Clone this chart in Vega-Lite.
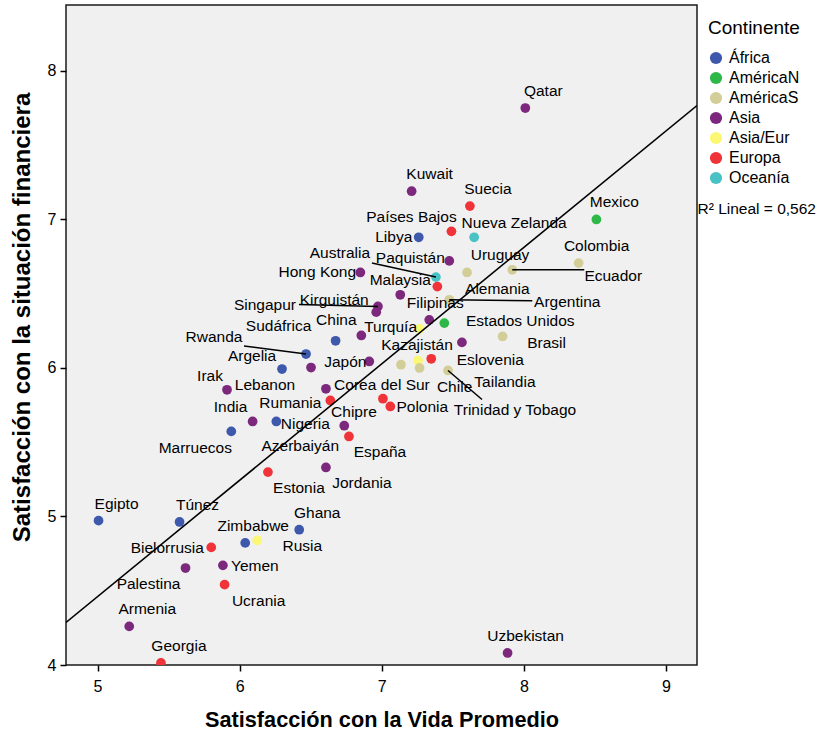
{
 "$schema": "https://vega.github.io/schema/vega-lite/v6.json",
 "width": 631, "height": 660,
 "autosize": {"type": "none"},
 "padding": {"left": 66, "top": 5, "right": 129, "bottom": 70},
 "background": "white",
 "data": {"values": [
  {"pais":"Qatar","continente":"Asia","vida":8.01,"fin":7.75},
  {"pais":"Kuwait","continente":"Asia","vida":7.21,"fin":7.19},
  {"pais":"Suecia","continente":"Europa","vida":7.62,"fin":7.09},
  {"pais":"Mexico","continente":"AméricaN","vida":8.51,"fin":7.0},
  {"pais":"Países Bajos","continente":"Europa","vida":7.49,"fin":6.92},
  {"pais":"Nueva Zelanda","continente":"Oceanía","vida":7.65,"fin":6.88},
  {"pais":"Libya","continente":"África","vida":7.26,"fin":6.88},
  {"pais":"Colombia","continente":"AméricaS","vida":8.385,"fin":6.706},
  {"pais":"Paquistán","continente":"Asia","vida":7.475,"fin":6.721},
  {"pais":"Uruguay","continente":"AméricaS","vida":7.6,"fin":6.643},
  {"pais":"Ecuador","continente":"AméricaS","vida":7.918,"fin":6.661},
  {"pais":"Australia","continente":"Oceanía","vida":7.381,"fin":6.612},
  {"pais":"Hong Kong","continente":"Asia","vida":6.849,"fin":6.643},
  {"pais":"Alemania","continente":"Europa","vida":7.391,"fin":6.548},
  {"pais":"Malaysia","continente":"Asia","vida":7.13,"fin":6.493},
  {"pais":"Singapur","continente":"Asia","vida":6.973,"fin":6.414},
  {"pais":"Kirguistán","continente":"Asia","vida":6.961,"fin":6.376},
  {"pais":"Argentina","continente":"AméricaS","vida":7.475,"fin":6.459},
  {"pais":"Filipinas","continente":"Asia","vida":7.334,"fin":6.324},
  {"pais":"Estados Unidos","continente":"AméricaN","vida":7.44,"fin":6.302},
  {"pais":"Turquía","continente":"Asia/Eur","vida":7.266,"fin":6.264},
  {"pais":"China","continente":"Asia","vida":6.856,"fin":6.219},
  {"pais":"Sudáfrica","continente":"África","vida":6.675,"fin":6.183},
  {"pais":"Tailandia","continente":"Asia","vida":7.564,"fin":6.172},
  {"pais":"Brasil","continente":"AméricaS","vida":7.85,"fin":6.212},
  {"pais":"Rwanda","continente":"África","vida":6.467,"fin":6.094},
  {"pais":"Eslovenia","continente":"Europa","vida":7.348,"fin":6.062},
  {"pais":"Kazajistán","continente":"Asia/Eur","vida":7.255,"fin":6.05},
  {"pais":"Japón","continente":"Asia","vida":6.912,"fin":6.044},
  {"pais":"Perú","continente":"AméricaS","vida":7.135,"fin":6.022},
  {"pais":"Chile","continente":"AméricaS","vida":7.266,"fin":6.0},
  {"pais":"Trinidad y Tobago","continente":"AméricaS","vida":7.466,"fin":5.983},
  {"pais":"Lebanon","continente":"Asia","vida":6.502,"fin":6.003},
  {"pais":"Argelia","continente":"África","vida":6.298,"fin":5.993},
  {"pais":"Irak","continente":"Asia","vida":5.911,"fin":5.853},
  {"pais":"Corea del Sur","continente":"Asia","vida":6.607,"fin":5.86},
  {"pais":"Chipre","continente":"Europa","vida":7.008,"fin":5.793},
  {"pais":"Polonia","continente":"Europa","vida":7.06,"fin":5.741},
  {"pais":"Rumania","continente":"Europa","vida":6.638,"fin":5.781},
  {"pais":"India","continente":"Asia","vida":6.091,"fin":5.64},
  {"pais":"Nigeria","continente":"África","vida":6.258,"fin":5.64},
  {"pais":"Marruecos","continente":"África","vida":5.941,"fin":5.573},
  {"pais":"Azerbaiyán","continente":"Asia","vida":6.736,"fin":5.611},
  {"pais":"España","continente":"Europa","vida":6.769,"fin":5.539},
  {"pais":"Jordania","continente":"Asia","vida":6.607,"fin":5.33},
  {"pais":"Estonia","continente":"Europa","vida":6.199,"fin":5.299},
  {"pais":"Egipto","continente":"África","vida":5.007,"fin":4.972},
  {"pais":"Túnez","continente":"África","vida":5.577,"fin":4.963},
  {"pais":"Ghana","continente":"África","vida":6.419,"fin":4.911},
  {"pais":"Zimbabwe","continente":"África","vida":6.039,"fin":4.822},
  {"pais":"Rusia","continente":"Asia/Eur","vida":6.124,"fin":4.839},
  {"pais":"Bielorrusia","continente":"Europa","vida":5.8,"fin":4.792},
  {"pais":"Yemen","continente":"Asia","vida":5.882,"fin":4.671},
  {"pais":"Palestina","continente":"Asia","vida":5.619,"fin":4.653},
  {"pais":"Ucrania","continente":"Europa","vida":5.894,"fin":4.541},
  {"pais":"Armenia","continente":"Asia","vida":5.223,"fin":4.26},
  {"pais":"Georgia","continente":"Europa","vida":5.446,"fin":4.014},
  {"pais":"Uzbekistan","continente":"Asia","vida":7.885,"fin":4.081}
 ]},
 "encoding": {
  "x": {"field": "vida", "type": "quantitative",
        "scale": {"domain": [4.778, 9.218], "nice": false, "zero": false},
        "axis": {"values": [5, 6, 7, 8, 9], "format": "d", "title": "Satisfacción con la Vida Promedio"}},
  "y": {"field": "fin", "type": "quantitative",
        "scale": {"domain": [4, 8.444], "nice": false, "zero": false},
        "axis": {"values": [4, 5, 6, 7, 8], "format": "d", "title": "Satisfacción con la situación financiera", "titleY": 312}}
 },
 "layer": [
  {"mark": {"type": "circle", "size": 95, "opacity": 1, "strokeWidth": 0, "clip": true},
   "encoding": {"fill": {"field": "continente", "type": "nominal",
     "scale": {"domain": ["África", "AméricaN", "AméricaS", "Asia", "Asia/Eur", "Europa", "Oceanía"],
               "range": ["#3E58AC", "#2EB848", "#D3CE97", "#7C287D", "#FBF873", "#EF3338", "#48C2C5"]},
     "legend": {"title": "Continente", "orient": "none", "legendX": 642, "legendY": 14, "padding": 0, "symbolType": "circle",
                "symbolSize": 150, "symbolStrokeWidth": 0, "labelFontSize": 16, "titleFontSize": 19,
                "titleFontWeight": "normal", "titlePadding": 12, "rowPadding": 4, "labelOffset": 5}}}},
  {"transform": [{"regression": "fin", "on": "vida", "extent": [4.778, 9.218]}],
   "mark": {"type": "line", "strokeWidth": 1.6, "clip": true},
   "encoding": {"stroke": {"datum": "R² Lineal = 0,562", "type": "nominal", "scale": {"range": ["#000000"]},
     "legend": {"title": null, "orient": "none", "legendX": 616, "legendY": 196, "padding": 0, "symbolSize": 0, "symbolOpacity": 0,
                "symbolStrokeWidth": 0, "labelFontSize": 15.5, "labelOffset": 0}}}},
  {"encoding": {"x2": {"field": "vida"}, "y2": {"field": "fin"}},
   "layer": [
    {"transform": [{"filter": "datum.pais === 'Ecuador'"}], "mark": {"type": "rule", "color": "#000", "strokeWidth": 1.5, "x2Offset": 72, "y2Offset": 0}},
    {"transform": [{"filter": "datum.pais === 'Australia'"}], "mark": {"type": "rule", "color": "#000", "strokeWidth": 1.5, "x2Offset": -64, "y2Offset": -14}},
    {"transform": [{"filter": "datum.pais === 'Singapur'"}], "mark": {"type": "rule", "color": "#000", "strokeWidth": 1.5, "x2Offset": -79, "y2Offset": -2}},
    {"transform": [{"filter": "datum.pais === 'Argentina'"}], "mark": {"type": "rule", "color": "#000", "strokeWidth": 1.5, "x2Offset": 83, "y2Offset": 1}},
    {"transform": [{"filter": "datum.pais === 'Rwanda'"}], "mark": {"type": "rule", "color": "#000", "strokeWidth": 1.5, "x2Offset": -62, "y2Offset": -8}},
    {"transform": [{"filter": "datum.pais === 'Trinidad y Tobago'"}], "mark": {"type": "rule", "color": "#000", "strokeWidth": 1.5, "x2Offset": 34, "y2Offset": 29}}
   ]},
  {"encoding": {"text": {"field": "pais", "type": "nominal"}},
   "layer": [
    {"transform": [{"filter": {"field": "pais", "oneOf": ["Qatar", "Kuwait", "Suecia", "Mexico", "Colombia", "Egipto", "Túnez", "Ghana", "Armenia", "Georgia", "Uzbekistan"]}}], "mark": {"type": "text", "dx": 18, "dy": -17}},
    {"transform": [{"filter": "datum.pais === 'Países Bajos'"}], "mark": {"type": "text", "dx": -40, "dy": -14}},
    {"transform": [{"filter": "datum.pais === 'Nueva Zelanda'"}], "mark": {"type": "text", "dx": 40, "dy": -14}},
    {"transform": [{"filter": "datum.pais === 'Libya'"}], "mark": {"type": "text", "dx": -25, "dy": 0}},
    {"transform": [{"filter": "datum.pais === 'Paquistán'"}], "mark": {"type": "text", "dx": -39, "dy": -3}},
    {"transform": [{"filter": "datum.pais === 'Uruguay'"}], "mark": {"type": "text", "dx": 33, "dy": -17}},
    {"transform": [{"filter": "datum.pais === 'Ecuador'"}], "mark": {"type": "text", "dx": 101, "dy": 6}},
    {"transform": [{"filter": "datum.pais === 'Australia'"}], "mark": {"type": "text", "dx": -96, "dy": -24}},
    {"transform": [{"filter": "datum.pais === 'Hong Kong'"}], "mark": {"type": "text", "dx": -43, "dy": 0}},
    {"transform": [{"filter": "datum.pais === 'Alemania'"}], "mark": {"type": "text", "dx": 60, "dy": 2}},
    {"transform": [{"filter": "datum.pais === 'Malaysia'"}], "mark": {"type": "text", "dx": 0, "dy": -15}},
    {"transform": [{"filter": "datum.pais === 'Kirguistán'"}], "mark": {"type": "text", "dx": -42, "dy": -12}},
    {"transform": [{"filter": "datum.pais === 'Singapur'"}], "mark": {"type": "text", "dx": -113, "dy": -1}},
    {"transform": [{"filter": "datum.pais === 'Argentina'"}], "mark": {"type": "text", "dx": 118, "dy": 2}},
    {"transform": [{"filter": "datum.pais === 'Filipinas'"}], "mark": {"type": "text", "dx": 6, "dy": -17}},
    {"transform": [{"filter": "datum.pais === 'Estados Unidos'"}], "mark": {"type": "text", "dx": 76, "dy": -2}},
    {"transform": [{"filter": "datum.pais === 'Turquía'"}], "mark": {"type": "text", "dx": -29, "dy": -2}},
    {"transform": [{"filter": "datum.pais === 'China'"}], "mark": {"type": "text", "dx": -25, "dy": -15}},
    {"transform": [{"filter": "datum.pais === 'Sudáfrica'"}], "mark": {"type": "text", "dx": -57, "dy": -15}},
    {"transform": [{"filter": "datum.pais === 'Tailandia'"}], "mark": {"type": "text", "dx": 43, "dy": 40}},
    {"transform": [{"filter": "datum.pais === 'Brasil'"}], "mark": {"type": "text", "dx": 44, "dy": 7}},
    {"transform": [{"filter": "datum.pais === 'Rwanda'"}], "mark": {"type": "text", "dx": -92, "dy": -17}},
    {"transform": [{"filter": "datum.pais === 'Eslovenia'"}], "mark": {"type": "text", "dx": 59, "dy": 1}},
    {"transform": [{"filter": "datum.pais === 'Kazajistán'"}], "mark": {"type": "text", "dx": -1, "dy": -16}},
    {"transform": [{"filter": "datum.pais === 'Japón'"}], "mark": {"type": "text", "dx": -24, "dy": 1}},
    {"transform": [{"filter": "datum.pais === 'Chile'"}], "mark": {"type": "text", "dx": 35, "dy": 19}},
    {"transform": [{"filter": "datum.pais === 'Trinidad y Tobago'"}], "mark": {"type": "text", "dx": 67, "dy": 40}},
    {"transform": [{"filter": "datum.pais === 'Lebanon'"}], "mark": {"type": "text", "dx": -46, "dy": 17}},
    {"transform": [{"filter": "datum.pais === 'Argelia'"}], "mark": {"type": "text", "dx": -30, "dy": -13}},
    {"transform": [{"filter": "datum.pais === 'Irak'"}], "mark": {"type": "text", "dx": -17, "dy": -14}},
    {"transform": [{"filter": "datum.pais === 'Corea del Sur'"}], "mark": {"type": "text", "dx": 56, "dy": -4}},
    {"transform": [{"filter": "datum.pais === 'Chipre'"}], "mark": {"type": "text", "dx": -29, "dy": 13}},
    {"transform": [{"filter": {"field": "pais", "oneOf": ["Polonia", "Yemen"]}}], "mark": {"type": "text", "dx": 32, "dy": 1}},
    {"transform": [{"filter": "datum.pais === 'Rumania'"}], "mark": {"type": "text", "dx": -40, "dy": 3}},
    {"transform": [{"filter": "datum.pais === 'India'"}], "mark": {"type": "text", "dx": -22, "dy": -14}},
    {"transform": [{"filter": "datum.pais === 'Nigeria'"}], "mark": {"type": "text", "dx": 29, "dy": 3}},
    {"transform": [{"filter": "datum.pais === 'Marruecos'"}], "mark": {"type": "text", "dx": -36, "dy": 17}},
    {"transform": [{"filter": "datum.pais === 'Azerbaiyán'"}], "mark": {"type": "text", "dx": -44, "dy": 20}},
    {"transform": [{"filter": {"field": "pais", "oneOf": ["España", "Estonia"]}}], "mark": {"type": "text", "dx": 31, "dy": 16}},
    {"transform": [{"filter": "datum.pais === 'Jordania'"}], "mark": {"type": "text", "dx": 36, "dy": 16}},
    {"transform": [{"filter": "datum.pais === 'Zimbabwe'"}], "mark": {"type": "text", "dx": 8, "dy": -17}},
    {"transform": [{"filter": "datum.pais === 'Rusia'"}], "mark": {"type": "text", "dx": 45, "dy": 6}},
    {"transform": [{"filter": "datum.pais === 'Bielorrusia'"}], "mark": {"type": "text", "dx": -44, "dy": 1}},
    {"transform": [{"filter": "datum.pais === 'Palestina'"}], "mark": {"type": "text", "dx": -37, "dy": 16}},
    {"transform": [{"filter": "datum.pais === 'Ucrania'"}], "mark": {"type": "text", "dx": 34, "dy": 16}}
   ]}
 ],
 "config": {
  "font": "Liberation Sans",
  "view": {"fill": "#F0F0F0", "stroke": "#1a1a1a", "strokeWidth": 1.5},
  "text": {"font": "Liberation Sans", "fontSize": 15.5, "baseline": "middle", "align": "center", "color": "#000"},
  "axis": {"domain": false, "grid": false, "ticks": true, "tickColor": "#000", "tickWidth": 1.5, "tickSize": 6,
           "labelFont": "Liberation Sans", "labelFontSize": 16, "labelColor": "#000", "labelPadding": 4,
           "titleFont": "Liberation Sans", "titleFontSize": 21, "titleFontWeight": "bold", "titleColor": "#000"},
  "axisX": {"labelPadding": 7, "titlePadding": 15, "titleFontSize": 21.7},
  "axisY": {"titlePadding": 13, "titleFontSize": 24},
  "legend": {"labelFont": "Liberation Sans", "titleFont": "Liberation Sans", "labelColor": "#000", "titleColor": "#000"}
 }
}
